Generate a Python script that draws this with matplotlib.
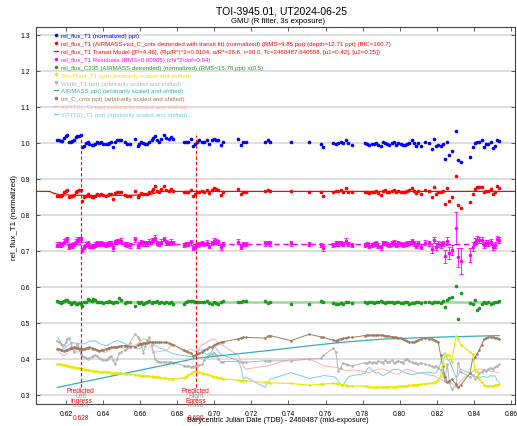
import matplotlib
matplotlib.use("Agg")
import matplotlib.pyplot as plt
from matplotlib.lines import Line2D

plt.rcParams["font.family"] = ["Liberation Sans", "DejaVu Sans"]

# mid-exposure times, BJD_TDB - 2460487
t = [
    0.6153, 0.6162, 0.6171, 0.6180, 0.6191, 0.6200, 0.6207, 0.6216, 0.6225, 0.6234,
    0.6243, 0.6252, 0.6261, 0.6270, 0.6279, 0.6288, 0.6299, 0.6308, 0.6317, 0.6326,
    0.6338, 0.6347, 0.6356, 0.6369, 0.6380, 0.6389, 0.6401, 0.6414, 0.6425, 0.6434,
    0.6443, 0.6452, 0.6464, 0.6477, 0.6488, 0.6498, 0.6518, 0.6531, 0.6545, 0.6572,
    0.6587, 0.6596, 0.6605, 0.6617, 0.6628, 0.6639, 0.6649, 0.6662, 0.6671, 0.6680,
    0.6693, 0.6703, 0.6714, 0.6729, 0.6739, 0.6754, 0.6766, 0.6779, 0.6836, 0.6845,
    0.6856, 0.6872, 0.6887, 0.6898, 0.6908, 0.6919,
    0.6935, 0.6946, 0.6959, 0.6971, 0.6986, 0.6998, 0.7009, 0.7022, 0.7036, 0.7049,
    0.7130, 0.7144, 0.7157, 0.7169, 0.7274, 0.7288, 0.7301, 0.7414, 0.7513, 0.7576,
    0.7588, 0.7642, 0.7655, 0.7669, 0.7682, 0.7693, 0.7709, 0.7723, 0.7745,
    0.7813, 0.7825, 0.7836, 0.7849, 0.7861, 0.7872, 0.7885, 0.7897, 0.7908, 0.7921,
    0.7933, 0.7944, 0.7957, 0.7969, 0.7980, 0.7993, 0.8005, 0.8016, 0.8028, 0.8041,
    0.8052, 0.8064, 0.8077, 0.8088, 0.8100, 0.8113, 0.8136, 0.8160, 0.8172, 0.8185,
    0.8196, 0.8208, 0.8221, 0.8232, 0.8244, 0.8257, 0.8268, 0.8280, 0.8304, 0.8316,
    0.8329, 0.8379, 0.8393, 0.8406, 0.8419, 0.8429, 0.8442, 0.8455, 0.8465, 0.8478,
    0.8491, 0.8501, 0.8514, 0.8526, 0.8537,
]

rel_flux = [
    1.007, 1.007, 1.006, 1.006, 1.013, 1.020, 1.023, 1.002, 1.004, 1.005,
    1.007, 1.016, 1.019, 1.020, 1.021, 0.988, 0.993, 1.000, 1.002, 0.997,
    0.995, 0.995, 0.997, 1.002, 1.000, 1.002, 0.998, 0.997, 0.998, 1.000,
    1.002, 0.988, 1.004, 1.009, 1.009, 1.007, 1.002, 0.997, 0.996, 1.011,
    0.991, 0.997, 1.004, 1.000, 0.997, 0.997, 1.002, 1.007, 1.013, 1.019,
    1.007, 1.004, 1.011, 1.022, 1.013, 1.011, 1.016, 1.011, 1.004, 1.004,
    1.002, 1.011, 0.993, 0.997, 1.004, 1.007,
    1.004, 1.002, 1.007, 0.997, 1.007, 1.011, 1.007, 1.008, 0.995, 1.004,
    1.011, 0.995, 1.002, 1.002, 1.004, 1.007, 1.004, 1.004, 1.002, 0.997,
    0.988, 1.000, 0.997, 1.000, 1.002, 1.000, 1.007, 1.000, 0.995,
    1.000, 0.997, 0.995, 0.997, 0.997, 1.000, 0.995, 0.991, 1.002, 1.000,
    0.997, 0.995, 1.000, 1.004, 0.995, 1.000, 0.997, 0.995, 0.995, 0.997,
    1.000, 1.007, 1.000, 0.993, 1.000, 0.991, 1.002, 1.000, 0.983, 1.011,
    0.991, 0.995, 0.993, 0.997, 0.956, 1.002, 0.967, 0.979, 1.034, 0.954,
    0.948, 0.962, 0.988, 1.000, 1.002, 1.004, 1.007, 0.988, 0.997, 0.997,
    1.004, 0.985, 0.993, 1.009, 1.006,
]

detrended = [
    0.854, 0.854, 0.854, 0.856, 0.863, 0.868, 0.869, 0.849, 0.854, 0.852,
    0.856, 0.863, 0.868, 0.870, 0.869, 0.840, 0.849, 0.854, 0.858, 0.852,
    0.849, 0.849, 0.854, 0.858, 0.856, 0.858, 0.856, 0.854, 0.856, 0.857,
    0.858, 0.844, 0.861, 0.863, 0.863, 0.865, 0.856, 0.854, 0.852, 0.868,
    0.849, 0.856, 0.861, 0.858, 0.857, 0.858, 0.863, 0.868, 0.872, 0.880,
    0.868, 0.865, 0.872, 0.880, 0.870, 0.868, 0.872, 0.868, 0.863, 0.865,
    0.865, 0.870, 0.854, 0.858, 0.863, 0.865,
    0.868, 0.865, 0.869, 0.861, 0.869, 0.874, 0.872, 0.870, 0.856, 0.865,
    0.872, 0.857, 0.865, 0.865, 0.867, 0.869, 0.867, 0.867, 0.865, 0.863,
    0.854, 0.863, 0.867, 0.867, 0.869, 0.865, 0.874, 0.865, 0.863,
    0.863, 0.865, 0.861, 0.863, 0.865, 0.867, 0.861, 0.856, 0.868, 0.869,
    0.865, 0.863, 0.867, 0.870, 0.863, 0.867, 0.865, 0.863, 0.865, 0.867,
    0.869, 0.874, 0.867, 0.861, 0.867, 0.858, 0.869, 0.867, 0.851, 0.877,
    0.858, 0.865, 0.863, 0.867, 0.831, 0.874, 0.840, 0.849, 0.909, 0.828,
    0.819, 0.835, 0.858, 0.872, 0.877, 0.877, 0.877, 0.863, 0.868, 0.868,
    0.872, 0.857, 0.863, 0.880, 0.876,
]

residuals = [
    0.717, 0.717, 0.717, 0.719, 0.726, 0.731, 0.732, 0.712, 0.717, 0.715,
    0.719, 0.726, 0.731, 0.733, 0.732, 0.703, 0.712, 0.717, 0.721, 0.715,
    0.713, 0.713, 0.718, 0.722, 0.720, 0.722, 0.720, 0.718, 0.720, 0.721,
    0.722, 0.708, 0.725, 0.727, 0.727, 0.729, 0.720, 0.718, 0.716, 0.732,
    0.713, 0.720, 0.725, 0.722, 0.721, 0.721, 0.726, 0.729, 0.731, 0.737,
    0.723, 0.719, 0.726, 0.734, 0.724, 0.722, 0.726, 0.722, 0.717, 0.719,
    0.719, 0.724, 0.708, 0.712, 0.717, 0.719,
    0.722, 0.719, 0.723, 0.715, 0.723, 0.728, 0.726, 0.724, 0.710, 0.719,
    0.726, 0.711, 0.719, 0.719, 0.721, 0.723, 0.721, 0.721, 0.719, 0.717,
    0.708, 0.717, 0.721, 0.721, 0.723, 0.719, 0.728, 0.719, 0.717,
    0.717, 0.719, 0.715, 0.717, 0.719, 0.721, 0.715, 0.710, 0.722, 0.723,
    0.719, 0.717, 0.721, 0.724, 0.717, 0.721, 0.719, 0.717, 0.719, 0.721,
    0.723, 0.728, 0.721, 0.715, 0.721, 0.712, 0.723, 0.721, 0.705, 0.731,
    0.712, 0.719, 0.717, 0.721, 0.685, 0.728, 0.694, 0.703, 0.763, 0.682,
    0.673, 0.689, 0.712, 0.726, 0.731, 0.731, 0.731, 0.717, 0.722, 0.722,
    0.726, 0.711, 0.717, 0.734, 0.730,
]

resid_err = [
    0.007, 0.007, 0.006, 0.006, 0.007, 0.006, 0.007, 0.006, 0.006, 0.007,
    0.006, 0.006, 0.007, 0.007, 0.006, 0.006, 0.006, 0.007, 0.006, 0.006,
    0.006, 0.006, 0.006, 0.007, 0.006, 0.006, 0.006, 0.006, 0.006, 0.006,
    0.006, 0.007, 0.006, 0.007, 0.006, 0.006, 0.006, 0.006, 0.007, 0.006,
    0.006, 0.006, 0.006, 0.007, 0.006, 0.006, 0.006, 0.006, 0.006, 0.007,
    0.006, 0.006, 0.006, 0.006, 0.006, 0.006, 0.006, 0.006, 0.006, 0.006,
    0.006, 0.006, 0.006, 0.006, 0.006, 0.006,
    0.006, 0.006, 0.007, 0.006, 0.006, 0.007, 0.006, 0.006, 0.006, 0.006,
    0.007, 0.006, 0.006, 0.006, 0.006, 0.006, 0.006, 0.007, 0.006, 0.006,
    0.007, 0.006, 0.006, 0.006, 0.006, 0.006, 0.007, 0.006, 0.006,
    0.006, 0.006, 0.006, 0.006, 0.006, 0.006, 0.006, 0.006, 0.006, 0.006,
    0.006, 0.006, 0.006, 0.006, 0.006, 0.006, 0.006, 0.006, 0.006, 0.006,
    0.006, 0.006, 0.006, 0.006, 0.007, 0.007, 0.007, 0.007, 0.010, 0.008,
    0.009, 0.008, 0.008, 0.008, 0.018, 0.010, 0.016, 0.013, 0.044, 0.027,
    0.036, 0.020, 0.012, 0.010, 0.010, 0.009, 0.008, 0.008, 0.008, 0.008,
    0.008, 0.008, 0.008, 0.008, 0.008,
]

comp_flux = [
    0.562, 0.559, 0.556, 0.557, 0.562, 0.565, 0.563, 0.559, 0.554, 0.556,
    0.557, 0.554, 0.552, 0.556, 0.552, 0.548, 0.557, 0.559, 0.567, 0.565,
    0.562, 0.567, 0.563, 0.559, 0.557, 0.559, 0.556, 0.559, 0.557, 0.561,
    0.557, 0.556, 0.557, 0.559, 0.569, 0.565, 0.556, 0.559, 0.557, 0.548,
    0.557, 0.556, 0.559, 0.553, 0.556, 0.557, 0.561, 0.556, 0.559, 0.557,
    0.562, 0.556, 0.559, 0.556, 0.557, 0.556, 0.557, 0.554, 0.553, 0.559,
    0.561, 0.562, 0.561, 0.559, 0.557, 0.559,
    0.559, 0.557, 0.561, 0.556, 0.553, 0.557, 0.556, 0.554, 0.559, 0.561,
    0.557, 0.559, 0.561, 0.561, 0.562, 0.556, 0.557, 0.553, 0.553, 0.561,
    0.557, 0.555, 0.553, 0.554, 0.556, 0.553, 0.557, 0.559, 0.556,
    0.557, 0.556, 0.557, 0.559, 0.556, 0.557, 0.559, 0.561, 0.557, 0.556,
    0.559, 0.557, 0.557, 0.556, 0.559, 0.557, 0.556, 0.556, 0.557, 0.559,
    0.554, 0.556, 0.556, 0.559, 0.557, 0.556, 0.557, 0.559, 0.556, 0.557,
    0.559, 0.557, 0.556, 0.561, 0.544, 0.563, 0.569, 0.571, 0.602, 0.511,
    0.583, 0.556, 0.552, 0.563, 0.535, 0.542, 0.552, 0.557, 0.556, 0.557,
    0.554, 0.556, 0.557, 0.559, 0.561,
]

sky = [
    0.386, 0.386, 0.385, 0.384, 0.383, 0.382, 0.381, 0.380, 0.379, 0.378,
    0.377, 0.376, 0.375, 0.374, 0.373, 0.372, 0.371, 0.370, 0.369, 0.369,
    0.368, 0.367, 0.367, 0.366, 0.365, 0.365, 0.364, 0.364, 0.363, 0.363,
    0.362, 0.362, 0.361, 0.361, 0.360, 0.360, 0.359, 0.358, 0.357, 0.356,
    0.355, 0.355, 0.354, 0.354, 0.353, 0.353, 0.352, 0.352, 0.351, 0.351,
    0.350, 0.349, 0.348, 0.347, 0.346, 0.345, 0.345, 0.344, 0.348, 0.351,
    0.355, 0.360, 0.365, 0.366, 0.365, 0.363,
    0.360, 0.359, 0.357, 0.355, 0.353, 0.351, 0.349, 0.348, 0.346, 0.345,
    0.341, 0.340, 0.340, 0.339, 0.335, 0.335, 0.334, 0.332, 0.327, 0.330,
    0.331, 0.332, 0.332, 0.331, 0.329, 0.328, 0.327, 0.326, 0.325,
    0.325, 0.324, 0.323, 0.322, 0.322, 0.322, 0.322, 0.322, 0.322, 0.322,
    0.322, 0.323, 0.323, 0.323, 0.323, 0.324, 0.324, 0.325, 0.325, 0.326,
    0.327, 0.327, 0.328, 0.329, 0.329, 0.330, 0.331, 0.332, 0.333, 0.335,
    0.337, 0.342, 0.352, 0.385, 0.410, 0.412, 0.410, 0.392, 0.465, 0.455,
    0.440, 0.419, 0.415, 0.368, 0.366, 0.345, 0.335, 0.328, 0.326, 0.325,
    0.326, 0.326, 0.327, 0.328, 0.330,
]

width = [
    0.451, 0.447, 0.442, 0.438, 0.440, 0.448, 0.455, 0.458, 0.445, 0.430,
    0.419, 0.432, 0.442, 0.430, 0.415, 0.409, 0.406, 0.403, 0.400, 0.404,
    0.406, 0.409, 0.411, 0.408, 0.404, 0.400, 0.398, 0.397, 0.400, 0.405,
    0.409, 0.398, 0.386, 0.400, 0.417, 0.420, 0.425, 0.430, 0.445, 0.469,
    0.462, 0.456, 0.440, 0.418, 0.435, 0.452, 0.460, 0.440, 0.420, 0.400,
    0.395, 0.392, 0.391, 0.391, 0.391, 0.391, 0.391, 0.390, 0.381, 0.381,
    0.380, 0.379, 0.379, 0.380, 0.381, 0.382,
    0.385, 0.398, 0.405, 0.410, 0.415, 0.418, 0.410, 0.400, 0.392, 0.393,
    0.394, 0.392, 0.391, 0.391, 0.395, 0.395, 0.395, 0.395, 0.400, 0.402,
    0.410, 0.430, 0.420, 0.368, 0.375, 0.388, 0.385, 0.383, 0.381,
    0.390, 0.388, 0.393, 0.390, 0.392, 0.388, 0.395, 0.392, 0.390, 0.396,
    0.393, 0.391, 0.397, 0.390, 0.392, 0.395, 0.393, 0.390, 0.398, 0.401,
    0.395, 0.392, 0.388, 0.390, 0.386, 0.390, 0.385, 0.383, 0.380, 0.378,
    0.381, 0.375, 0.370, 0.360, 0.340, 0.385, 0.335, 0.317, 0.325, 0.390,
    0.365, 0.350, 0.355, 0.345, 0.350, 0.360, 0.365, 0.370, 0.368, 0.372,
    0.375, 0.372, 0.378, 0.381, 0.385,
]

tot_c_cnts = [
    0.428, 0.427, 0.425, 0.424, 0.423, 0.424, 0.426, 0.428, 0.430, 0.431,
    0.432, 0.431, 0.430, 0.429, 0.428, 0.428, 0.429, 0.430, 0.431, 0.432,
    0.431, 0.429, 0.427, 0.425, 0.423, 0.424, 0.426, 0.428, 0.430, 0.431,
    0.432, 0.432, 0.433, 0.434, 0.435, 0.436, 0.437, 0.436, 0.434, 0.434,
    0.438, 0.441, 0.443, 0.444, 0.445, 0.445, 0.446, 0.446, 0.446, 0.446,
    0.446, 0.446, 0.446, 0.446, 0.446, 0.444, 0.441, 0.439, 0.425, 0.423,
    0.420, 0.416, 0.409, 0.410, 0.413, 0.416,
    0.420, 0.424, 0.428, 0.432, 0.434, 0.438, 0.441, 0.444, 0.446, 0.448,
    0.456, 0.458, 0.460, 0.460, 0.458, 0.463, 0.465, 0.451, 0.469, 0.461,
    0.460, 0.452, 0.451, 0.454, 0.456, 0.457, 0.458, 0.460, 0.460,
    0.465, 0.466, 0.466, 0.467, 0.466, 0.466, 0.467, 0.466, 0.466, 0.465,
    0.464, 0.463, 0.462, 0.461, 0.460, 0.459, 0.458, 0.455, 0.452, 0.450,
    0.448, 0.446, 0.447, 0.450, 0.453, 0.455, 0.457, 0.455, 0.456, 0.453,
    0.450, 0.446, 0.410, 0.380, 0.350, 0.335, 0.338, 0.344, 0.330, 0.321,
    0.328, 0.360, 0.400, 0.405, 0.415, 0.425, 0.440, 0.455, 0.458, 0.460,
    0.461, 0.460, 0.459, 0.458, 0.456,
]

x_fits = [
    0.423, 0.420, 0.416, 0.412, 0.410, 0.412, 0.420, 0.428, 0.435, 0.436,
    0.430, 0.423, 0.419, 0.420, 0.422, 0.423, 0.424, 0.425, 0.426, 0.427,
    0.428, 0.428, 0.427, 0.425, 0.423, 0.421, 0.419, 0.419, 0.421, 0.424,
    0.427, 0.429, 0.431, 0.432, 0.432, 0.433, 0.434, 0.435, 0.436, 0.439,
    0.443, 0.447, 0.451, 0.455, 0.456, 0.452, 0.440, 0.428, 0.421, 0.419,
    0.420, 0.421, 0.422, 0.423, 0.423, 0.430, 0.437, 0.442, 0.420, 0.421,
    0.424, 0.427, 0.425, 0.421, 0.425, 0.430,
    0.440, 0.442, 0.445, 0.450, 0.455, 0.456, 0.452, 0.445, 0.440, 0.437,
    0.409, 0.395, 0.380, 0.372, 0.380, 0.381, 0.383, 0.400, 0.400, 0.385,
    0.381, 0.378, 0.377, 0.375, 0.372, 0.370, 0.368, 0.368, 0.370,
    0.365, 0.363, 0.362, 0.365, 0.368, 0.370, 0.372, 0.372, 0.372, 0.370,
    0.368, 0.365, 0.362, 0.360, 0.358, 0.358, 0.362, 0.366, 0.370, 0.372,
    0.370, 0.368, 0.365, 0.363, 0.362, 0.360, 0.358, 0.356, 0.354, 0.354,
    0.350, 0.347, 0.344, 0.340, 0.338, 0.336, 0.335, 0.332, 0.326, 0.330,
    0.340, 0.360, 0.365, 0.370, 0.372, 0.372, 0.372, 0.370, 0.368, 0.368,
    0.366, 0.365, 0.365, 0.363, 0.362,
]

y_fits = [
    0.460, 0.455, 0.445, 0.435, 0.428, 0.432, 0.436, 0.440, 0.444, 0.446,
    0.445, 0.444, 0.443, 0.442, 0.442, 0.442, 0.442, 0.445, 0.447, 0.449,
    0.450, 0.451, 0.450, 0.447, 0.444, 0.441, 0.439, 0.437, 0.438, 0.441,
    0.444, 0.447, 0.449, 0.451, 0.450, 0.447, 0.442, 0.439, 0.437, 0.432,
    0.430, 0.428, 0.431, 0.438, 0.444, 0.449, 0.451, 0.447, 0.442, 0.438,
    0.434, 0.431, 0.429, 0.427, 0.424, 0.420, 0.417, 0.414, 0.409, 0.409,
    0.408, 0.407, 0.406, 0.410, 0.418, 0.425,
    0.425, 0.418, 0.412, 0.415, 0.420, 0.435, 0.430, 0.420, 0.412, 0.410,
    0.395, 0.375, 0.344, 0.350, 0.321, 0.335, 0.344, 0.362, 0.346, 0.352,
    0.354, 0.351, 0.348, 0.338, 0.330, 0.326, 0.340, 0.350, 0.354,
    0.360, 0.372, 0.377, 0.370, 0.363, 0.360, 0.363, 0.358, 0.354, 0.356,
    0.360, 0.365, 0.368, 0.372, 0.370, 0.372, 0.368, 0.365, 0.362, 0.360,
    0.358, 0.356, 0.358, 0.358, 0.360, 0.362, 0.362, 0.363, 0.362, 0.360,
    0.362, 0.370, 0.390, 0.410, 0.418, 0.400, 0.395, 0.380, 0.349, 0.355,
    0.372, 0.360, 0.354, 0.352, 0.350, 0.349, 0.350, 0.352, 0.349, 0.350,
    0.354, 0.352, 0.354, 0.340, 0.335,
]

# airmass curve (arbitrarily scaled and shifted)
airmass_t = [0.6153, 0.6300, 0.6450, 0.6600, 0.6750, 0.6900, 0.7100, 0.7300,
             0.7500, 0.7700, 0.7900, 0.8100, 0.8300, 0.8537]
airmass = [0.321, 0.337, 0.353, 0.369, 0.385, 0.402, 0.413, 0.424,
           0.436, 0.447, 0.455, 0.459, 0.462, 0.465]

# transit model (flat, dip of 12.71 ppt)
model_t = [0.6038, 0.6112, 0.6135, 0.6166, 0.6250, 0.6406, 0.6560, 0.6646,
           0.6677, 0.6700, 0.8622]
model = [0.8655, 0.8655, 0.8600, 0.8562, 0.8548, 0.8540, 0.8548, 0.8562,
         0.8600, 0.8655, 0.8655]
resid_level = 0.7194
comp_level = 0.5574

pred_times = [0.628, 0.690]
pred_names = ["Ingress", "Egress"]
pred_sides = ["Left", "Right"]

xticks = [0.62, 0.64, 0.66, 0.68, 0.70, 0.72, 0.74, 0.76, 0.78, 0.80, 0.82, 0.84, 0.86]
yticks = [0.3, 0.4, 0.5, 0.6, 0.7, 0.8, 0.9, 1.0, 1.1, 1.2, 1.3]

c_blue = "#0000ff"
c_red = "#ff0000"
c_mag = "#ff00ff"
c_green = "#1a9a1a"
c_yellow = "#e8e800"
c_gray = "#b4b4b4"
c_teal = "#3aabb8"
c_brown = "#a07a5a"
c_pink = "#ffb0b0"
c_lblue = "#78ccf4"

fig = plt.figure(figsize=(5.17, 4.27), dpi=100)
ax = fig.add_axes([36 / 517, 22 / 427, 479 / 517, 377 / 427])

ms = 1.6
ax.plot(t, x_fits, color=c_pink, lw=0.7)
ax.plot(t, y_fits, color=c_lblue, lw=0.7)
ax.plot(t, width, color=c_gray, lw=0.7, marker="o", ms=0.9)
ax.plot(airmass_t, airmass, color=c_teal, lw=0.9)
ax.plot(t, tot_c_cnts, color=c_brown, lw=0.7, marker="o", ms=0.9)
ax.plot(t, sky, color=c_yellow, lw=0.8, marker="o", ms=0.9)

ax.plot([t[0], t[-1]], [comp_level, comp_level], color="#9ad89a", lw=1.8)
ax.plot(t, comp_flux, "o", color=c_green, ms=ms)

ax.plot([t[0], t[-1]], [resid_level, resid_level], color=c_mag, lw=1.0, dashes=(4, 2.5))
ax.errorbar(t, residuals, yerr=resid_err, fmt="o", ms=ms, color=c_mag,
            ecolor=c_mag, elinewidth=0.6, capsize=1.2, capthick=0.6)

ax.plot(model_t, model, color=c_red, lw=0.9)
ax.plot(t, detrended, "o", color=c_red, ms=ms)
ax.plot(t, rel_flux, "o", color=c_blue, ms=ms)

trans = ax.get_xaxis_transform()
for x, name, side in zip(pred_times, pred_names, pred_sides):
    ax.vlines(x, 0.322, 1.022, colors=c_red, linestyles=(0, (3, 2)), lw=0.8)
    ax.text(x, 0.0345, "Predicted", color=c_red, ha="center", va="center",
            fontsize=4.8, transform=trans)
    ax.text(x, 0.0225, side, color="#999999", ha="center", va="center",
            fontsize=4.8, transform=trans)
    ax.text(x, 0.0106, name, color=c_red, ha="center", va="center",
            fontsize=4.8, transform=trans)
    ax.text(x, -0.001, f"{x:.3f}", color="#999999", ha="center", va="center",
            fontsize=4.6, transform=trans, clip_on=False)
    ax.text(x, -0.037, f"{x:.3f}", color=c_red, ha="center", va="center",
            fontsize=4.8, transform=trans, clip_on=False)

ax.set_xlim(0.6038, 0.8622)
ax.set_ylim(0.275, 1.3222)
ax.set_xticks(xticks)
ax.set_xticklabels([f"{v:.2f}" for v in xticks])
ax.set_yticks(yticks)
ax.set_yticklabels([f"{v:.1f}" for v in yticks])
ax.tick_params(direction="in", length=3, width=0.6, labelsize=4.9,
               top=True, right=True, color="#444444")
ax.tick_params(axis="x", pad=4.5)
ax.tick_params(axis="y", pad=4.3)
ax.yaxis.grid(True, color="#d6d6d6", lw=1.1)
ax.set_axisbelow(True)
for s in ax.spines.values():
    s.set_linewidth(0.8)
    s.set_color("#444444")

labels = [
    "rel_flux_T1 (normalized) ppt)",
    "rel_flux_T1 (AIRMASS+tot_C_cnts detrended with transit fit) (normalized) (RMS=9.85 ppt) (depth=12.71 ppt) (BIC=160.7)",
    "rel_flux_T1 Transit Model ([P=4.46], (Rp/R*)^2=0.0104, a/R*=26.6, i=90.0, Tc=2460487.640558, [u1=0.42], [u2=0.25])",
    "rel_flux_T1 Residuals (RMS=0.00985) (chi^2/dof=0.94)",
    "rel_flux_C235 (AIRMASS detrended) (normalized) (RMS=15.76 ppt) x(0.5)",
    "Sky/Pixel_T1 ppt) (arbitrarily scaled and shifted)",
    "Width_T1 ppt) (arbitrarily scaled and shifted)",
    "AIRMASS ppt) (arbitrarily scaled and shifted)",
    "tot_C_cnts ppt) (arbitrarily scaled and shifted)",
    "X(FITS)_T1 ppt) (arbitrarily scaled and shifted)",
    "Y(FITS)_T1 ppt) (arbitrarily scaled and shifted)",
]
colors = [c_blue, c_red, c_red, c_mag, c_green, c_yellow, c_gray, c_teal,
          c_brown, c_pink, c_lblue]
is_line = [False, False, True, False, False, False, False, True, False, True, True]
handles = []
for c, ln in zip(colors, is_line):
    if ln:
        handles.append(Line2D([], [], color=c, lw=0.9))
    else:
        handles.append(Line2D([], [], ls="none", marker="o", ms=1.5, color=c))
ax.legend(handles, labels, loc="upper left", bbox_to_anchor=(0.038, 0.985),
          frameon=False, fontsize=4.45, handlelength=0.6, handletextpad=0.45,
          labelspacing=0.42, borderpad=0, borderaxespad=0, labelcolor=colors)

fig.text(282 / 517, 1 - 12 / 427, "TOI-3945.01, UT2024-06-25", ha="center",
         va="center", fontsize=7.5)
fig.text(278 / 517, 1 - 21.5 / 427, "GMU (R filter, 3s exposure)", ha="center",
         va="center", fontsize=5.6)
fig.text(15 / 517, 1 - 217 / 427, "rel_flux_T1 (normalized)", rotation=90,
         ha="center", va="center", fontsize=5.7)
fig.text(278 / 517, 1 - 421 / 427,
         "Barycentric Julian Date (TDB) - 2460487 (mid-exposure)",
         ha="center", va="center", fontsize=5.2)

fig.savefig("out.png", dpi=100)
